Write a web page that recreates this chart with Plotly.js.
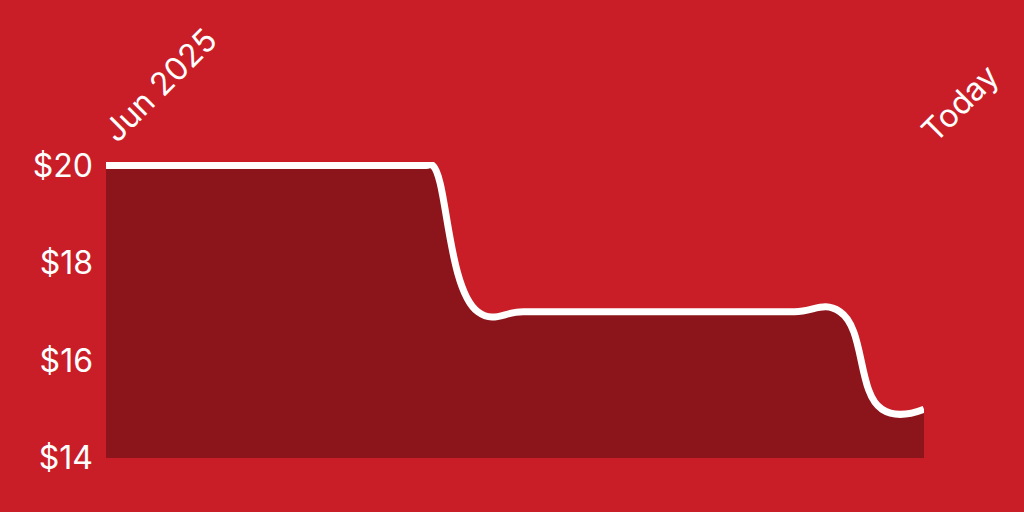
<!DOCTYPE html>
<html>
<head>
<meta charset="utf-8">
<script src="https://cdn.plot.ly/plotly-3.0.1.min.js"></script>
<style>
  html, body { margin: 0; padding: 0; background: #c91e27; }
  #chart { width: 1024px; height: 512px; }
</style>
</head>
<body>
<div id="chart"></div>
<script>
// price samples, Jun 2025 -> today
const dates = [
  '2025-06-01', '2025-06-02 12:00', '2025-06-09 12:00', '2025-06-16 12:00',
  '2025-06-23 12:00', '2025-06-30 12:00', '2025-07-07 12:00', '2025-07-14 12:00',
  '2025-07-20 12:00', '2025-07-21 12:00', '2025-07-28 12:00', '2025-08-04 12:00',
  '2025-08-11 12:00', '2025-08-18 12:00', '2025-08-25 12:00', '2025-09-01 12:00',
  '2025-09-08 12:00', '2025-09-15 12:00', '2025-09-22 12:00', '2025-09-29 00:00',
  '2025-10-05 12:00'
];
const prices = [20, 20, 20, 20, 20, 20, 20, 20, 20, 20, 17, 17, 17, 17, 17, 17, 17, 17, 17, 15, 15];

const xTickText = ['Jun 2025', 'Today'];
const yTicks = [14, 16, 18, 20];

const trace = {
  x: dates,
  y: prices,
  type: 'scatter',
  mode: 'lines',
  line: { color: '#ffffff', width: 7, shape: 'spline', smoothing: 1.3 },
  fill: 'tozeroy',
  fillcolor: '#8b151b',
  hoverinfo: 'skip'
};

const layout = {
  width: 1024,
  height: 512,
  margin: { l: 106, r: 100, t: 162, b: 54 },
  paper_bgcolor: '#c91e27',
  plot_bgcolor: '#c91e27',
  showlegend: false,
  font: { family: 'Inter, Roboto, sans-serif', color: '#ffffff' },
  xaxis: {
    type: 'date',
    side: 'top',
    range: [dates[0], dates[dates.length - 1]],
    tickmode: 'array',
    tickvals: [dates[0], dates[dates.length - 1]],
    ticktext: xTickText,
    tickangle: -45,
    ticks: '',
    ticklabelstandoff: 6,
    tickfont: { size: 32, color: '#ffffff' },
    showgrid: false,
    zeroline: false,
    showline: false
  },
  yaxis: {
    range: [14, 20.07],
    tickmode: 'array',
    tickvals: yTicks,
    ticktext: yTicks.map(v => '$' + v),
    ticks: '',
    ticklabelstandoff: 12,
    tickfont: { size: 32, color: '#ffffff' },
    showgrid: false,
    zeroline: false,
    showline: false
  }
};

Plotly.newPlot('chart', [trace], layout, { displayModeBar: false, staticPlot: true });
</script>
</body>
</html>
